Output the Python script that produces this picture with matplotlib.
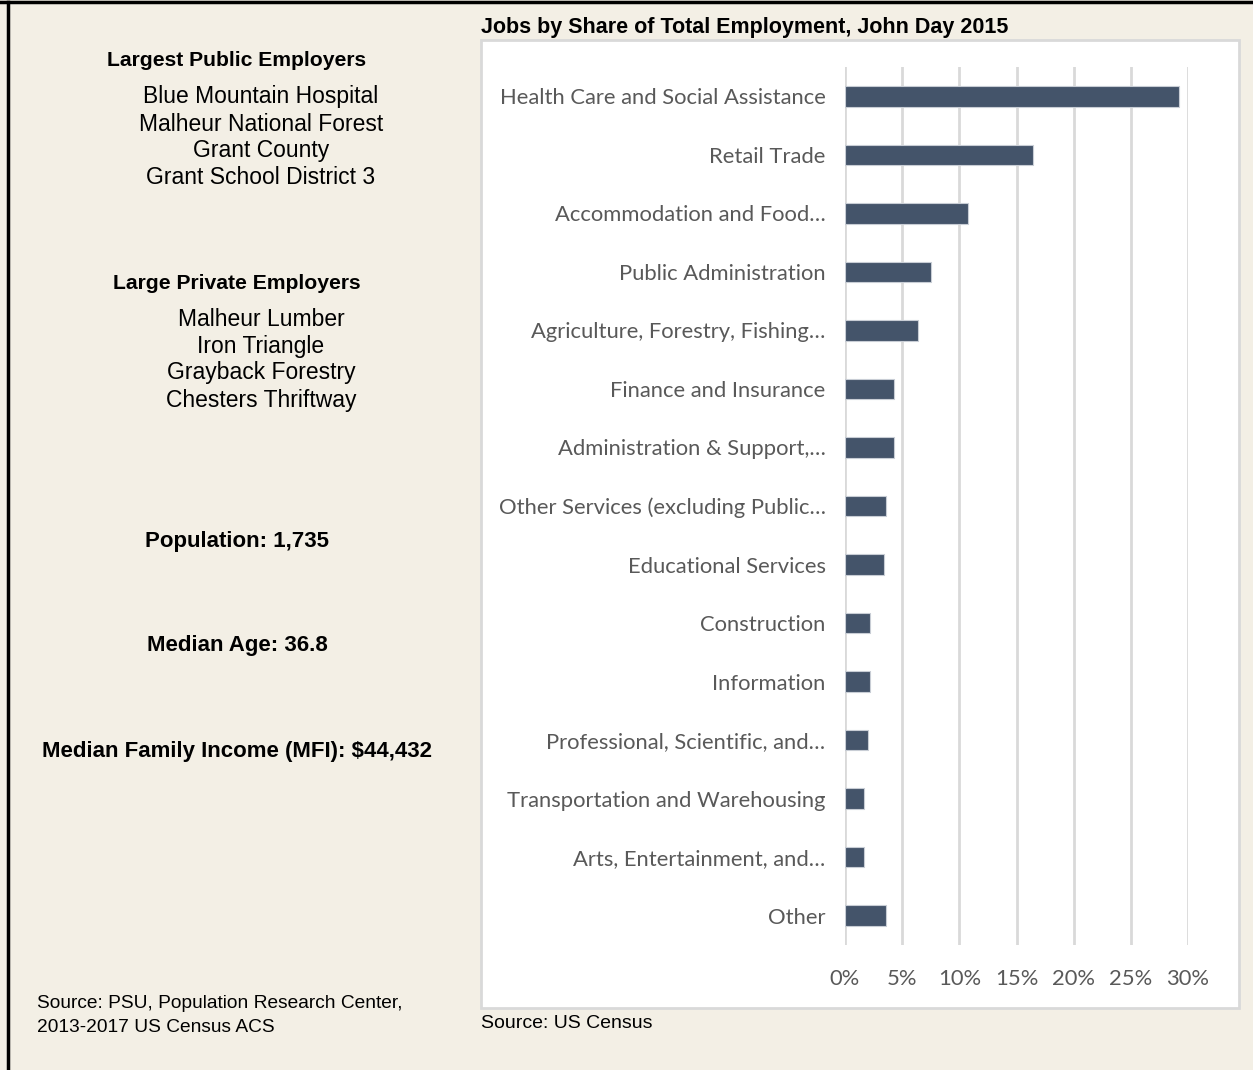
import matplotlib.pyplot as plt
from matplotlib.patches import Rectangle
from matplotlib.lines import Line2D
from matplotlib.ticker import FuncFormatter

# data
industries = [
    "Health Care and Social Assistance",
    "Retail Trade",
    "Accommodation and Food…",
    "Public Administration",
    "Agriculture, Forestry, Fishing…",
    "Finance and Insurance",
    "Administration & Support,…",
    "Other Services (excluding Public…",
    "Educational Services",
    "Construction",
    "Information",
    "Professional, Scientific, and…",
    "Transportation and Warehousing",
    "Arts, Entertainment, and…",
    "Other",
]
shares = [29.2, 16.4, 10.8, 7.5, 6.4, 4.3, 4.3, 3.6, 3.4, 2.2, 2.2, 2.0, 1.7, 1.7, 3.6]
x_ticks = [0, 5, 10, 15, 20, 25, 30]

public_employers = ["Blue Mountain Hospital", "Malheur National Forest",
                    "Grant County", "Grant School District 3"]
private_employers = ["Malheur Lumber", "Iron Triangle", "Grayback Forestry",
                     "Chesters Thriftway"]
population = "1,735"
median_age = "36.8"
mfi = "$44,432"

W, H = 1253, 1070
bg = "#F3EFE5"
bar_color = "#44546A"
grid_color = "#D9D9D9"
label_color = "#595959"
head_font = ["Liberation Sans", "DejaVu Sans"]
body_font = ["Liberation Sans", "DejaVu Sans"]
tick_font = ["Lato", "DejaVu Sans"]

fig = plt.figure(figsize=(W / 100, H / 100), dpi=100, facecolor=bg)


def fx(px):
    return px / W


def fy(py):
    return 1 - py / H


# outer frame lines (top and left only)
fig.add_artist(Line2D([0, 1], [fy(2), fy(2)], color="black", lw=2.5))
fig.add_artist(Line2D([fx(8), fx(8)], [fy(2), 0], color="black", lw=2.5))

# white chart box
box = Rectangle((fx(481), fy(1008)), fx(1239) - fx(481), fy(40) - fy(1008),
                facecolor="white", edgecolor=grid_color, lw=2, zorder=0)
fig.add_artist(box)

ax = fig.add_axes([fx(845), fy(945), fx(1188) - fx(845), fy(67) - fy(945)])
ax.set_zorder(2)
ax.set_facecolor("none")
ypos = list(range(len(industries)))
ax.barh(ypos, shares, height=0.35, color=bar_color, edgecolor="#C8CDD5", lw=0.8, zorder=3)
ax.set_ylim(len(industries) - 0.5, -0.5)
ax.set_xlim(0, 30)
ax.set_xticks(x_ticks)
ax.xaxis.set_major_formatter(FuncFormatter(lambda v, p: f"{v:.0f}%"))
ax.set_yticks(ypos)
ax.set_yticklabels(industries)
ax.grid(axis="x", color=grid_color, lw=2, zorder=0)
for s in ax.spines.values():
    s.set_visible(False)
ax.tick_params(axis="both", length=0, colors=label_color, labelsize=15.8)
ax.tick_params(axis="y", pad=14)
ax.tick_params(axis="x", pad=17)
for t in ax.get_xticklabels() + ax.get_yticklabels():
    t.set_family(tick_font)

# chart title and source
fig.text(fx(481), fy(27), "Jobs by Share of Total Employment, John Day 2015",
         family=head_font, weight="bold", fontsize=15.5, va="center", ha="left")
fig.text(fx(481), fy(1023), "Source: US Census", family=body_font, fontsize=14,
         va="center", ha="left")

# left panel
fig.text(fx(237), fy(61), "Largest Public Employers", family=head_font, weight="bold",
         fontsize=15.2, ha="center", va="center")
for name, py in zip(public_employers, [96, 124, 150, 178]):
    fig.text(fx(261), fy(py), name, family=body_font, fontsize=16.5, ha="center", va="center")

fig.text(fx(237), fy(283), "Large Private Employers", family=head_font, weight="bold",
         fontsize=15.2, ha="center", va="center")
for name, py in zip(private_employers, [319, 346, 373, 400]):
    fig.text(fx(261), fy(py), name, family=body_font, fontsize=16.5, ha="center", va="center")

fig.text(fx(237), fy(541), f"Population: {population}", family=head_font, weight="bold",
         fontsize=16, ha="center", va="center")
fig.text(fx(237), fy(646), f"Median Age: {median_age}", family=head_font, weight="bold",
         fontsize=16, ha="center", va="center")
fig.text(fx(237), fy(752), f"Median Family Income (MFI): {mfi}", family=head_font,
         weight="bold", fontsize=16, ha="center", va="center")

fig.text(fx(37), fy(1004), "Source: PSU, Population Research Center,", family=body_font,
         fontsize=13.8, ha="left", va="center")
fig.text(fx(37), fy(1028), "2013-2017 US Census ACS", family=body_font,
         fontsize=13.8, ha="left", va="center")

fig.savefig("out.png", dpi=100, facecolor=bg)
